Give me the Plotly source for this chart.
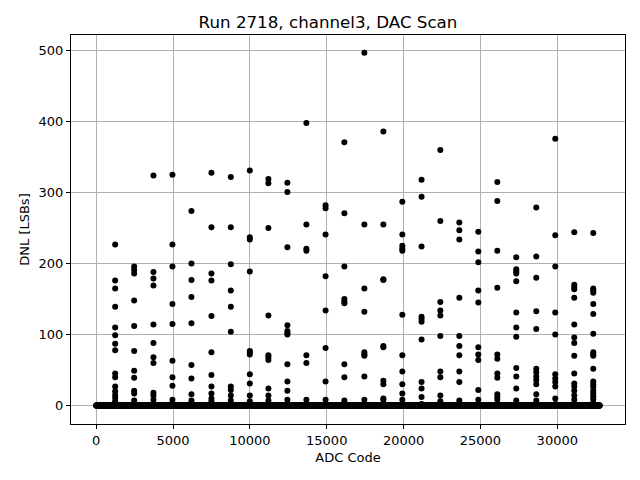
import numpy as np
import plotly.graph_objects as go

# ADC codes where the DAC scan produced non-zero DNL spikes
spike_codes = [1236, 2471, 3726, 4962, 6198, 7498, 8760, 9995, 11205, 12441,
               13676, 14925, 16147, 17448, 18684, 19919, 21168, 22391, 23626,
               24862, 26097, 27332, 28633, 29869, 31105, 32340]

# DNL values [LSBs] seen at each of those codes
spike_dnl = [
    [227, 176, 165, 139, 110, 99, 87, 78, 45, 40, 27, 20, 15, 11, 6, 3],
    [196, 191, 186, 148, 112, 77, 49, 39, 21, 17, 7, 3],
    [324, 188, 179, 169, 114, 88, 68, 60, 18, 14, 8, 3],
    [325, 227, 196, 143, 115, 63, 40, 28, 8, 3],
    [274, 200, 177, 153, 116, 57, 38, 16, 7, 2],
    [328, 251, 186, 176, 126, 75, 43, 27, 17, 10, 6, 2],
    [322, 251, 199, 162, 139, 104, 27, 22, 14, 7, 2],
    [331, 237, 234, 189, 77, 75, 72, 44, 31, 14, 6, 2],
    [319, 313, 250, 127, 71, 68, 64, 24, 14, 7, 2],
    [314, 301, 223, 113, 105, 102, 100, 58, 34, 21, 8, 2],
    [398, 255, 221, 218, 71, 60, 8, 2],
    [282, 278, 241, 182, 134, 81, 34, 8, 2],
    [371, 271, 196, 150, 147, 144, 58, 40, 7, 2],
    [497, 255, 165, 132, 75, 72, 70, 41, 8, 2],
    [386, 255, 178, 177, 84, 82, 35, 30, 10, 8, 2],
    [287, 241, 225, 221, 218, 128, 71, 48, 30, 17, 8, 2],
    [318, 294, 224, 125, 122, 118, 93, 33, 24, 12, 2],
    [360, 260, 146, 134, 127, 98, 48, 40, 14, 6, 2],
    [258, 247, 234, 152, 98, 84, 71, 48, 33, 7, 2],
    [245, 217, 202, 162, 145, 82, 72, 64, 22, 8, 2],
    [315, 288, 218, 166, 72, 66, 45, 39, 16, 12, 8, 2],
    [209, 192, 189, 186, 175, 131, 110, 97, 53, 41, 24, 7, 2],
    [279, 210, 180, 133, 108, 52, 47, 41, 36, 30, 16, 7, 2],
    [376, 240, 196, 131, 100, 44, 38, 33, 27, 10, 2],
    [244, 170, 167, 164, 152, 114, 96, 88, 70, 45, 31, 27, 21, 14, 8, 3],
    [243, 165, 162, 159, 143, 129, 101, 75, 72, 70, 52, 34, 30, 26, 21, 17, 13, 9, 4],
]

# every other code sits at DNL = 0 (sampled every 8 codes, dots overlap anyway)
baseline_codes = np.arange(0, 32768, 8)
baseline_dnl = np.zeros(len(baseline_codes))

x_ticks = [0, 5000, 10000, 15000, 20000, 25000, 30000]
x_tick_labels = ["0", "5000", "10000", "15000", "20000", "25000", "30000"]
y_ticks = [0, 100, 200, 300, 400, 500]
y_tick_labels = ["0", "100", "200", "300", "400", "500"]

xs = list(baseline_codes)
ys = list(baseline_dnl)
for code, vals in zip(spike_codes, spike_dnl):
    xs += [code] * len(vals)
    ys += vals

fig = go.Figure()
fig.add_trace(go.Scatter(
    x=xs, y=ys, mode="markers",
    marker=dict(color="black", size=6, line=dict(width=0)),
    hoverinfo="x+y",
))

axis_common = dict(
    showline=True, linecolor="black", linewidth=1, mirror=True,
    ticks="outside", ticklen=4, tickcolor="black",
    showgrid=True, gridcolor="#b0b0b0", gridwidth=0.8,
    zeroline=False, automargin=False,
    tickfont=dict(size=13, color="black"),
)

fig.update_xaxes(
    range=[-1638, 34405], tickvals=x_ticks, ticktext=x_tick_labels,
    title=dict(text="ADC Code", font=dict(size=13, color="black"), standoff=6),
    **axis_common,
)
fig.update_yaxes(
    range=[-26, 522], tickvals=y_ticks, ticktext=y_tick_labels,
    title=dict(text="DNL [LSBs]", font=dict(size=13, color="black"), standoff=6),
    **axis_common,
)

# page body adds an 8px offset, margins compensate for it
fig.update_layout(
    width=640, height=480,
    title=dict(text="Run 2718, channel3, DAC Scan", x=0.5, xanchor="center",
               y=0.971, yanchor="middle", font=dict(size=16.7, color="black")),
    font=dict(family="DejaVu Sans", color="black"),
    plot_bgcolor="white", paper_bgcolor="white",
    margin=dict(l=63, r=23, t=27, b=64),
    showlegend=False,
)

fig.write_html("out.html")
